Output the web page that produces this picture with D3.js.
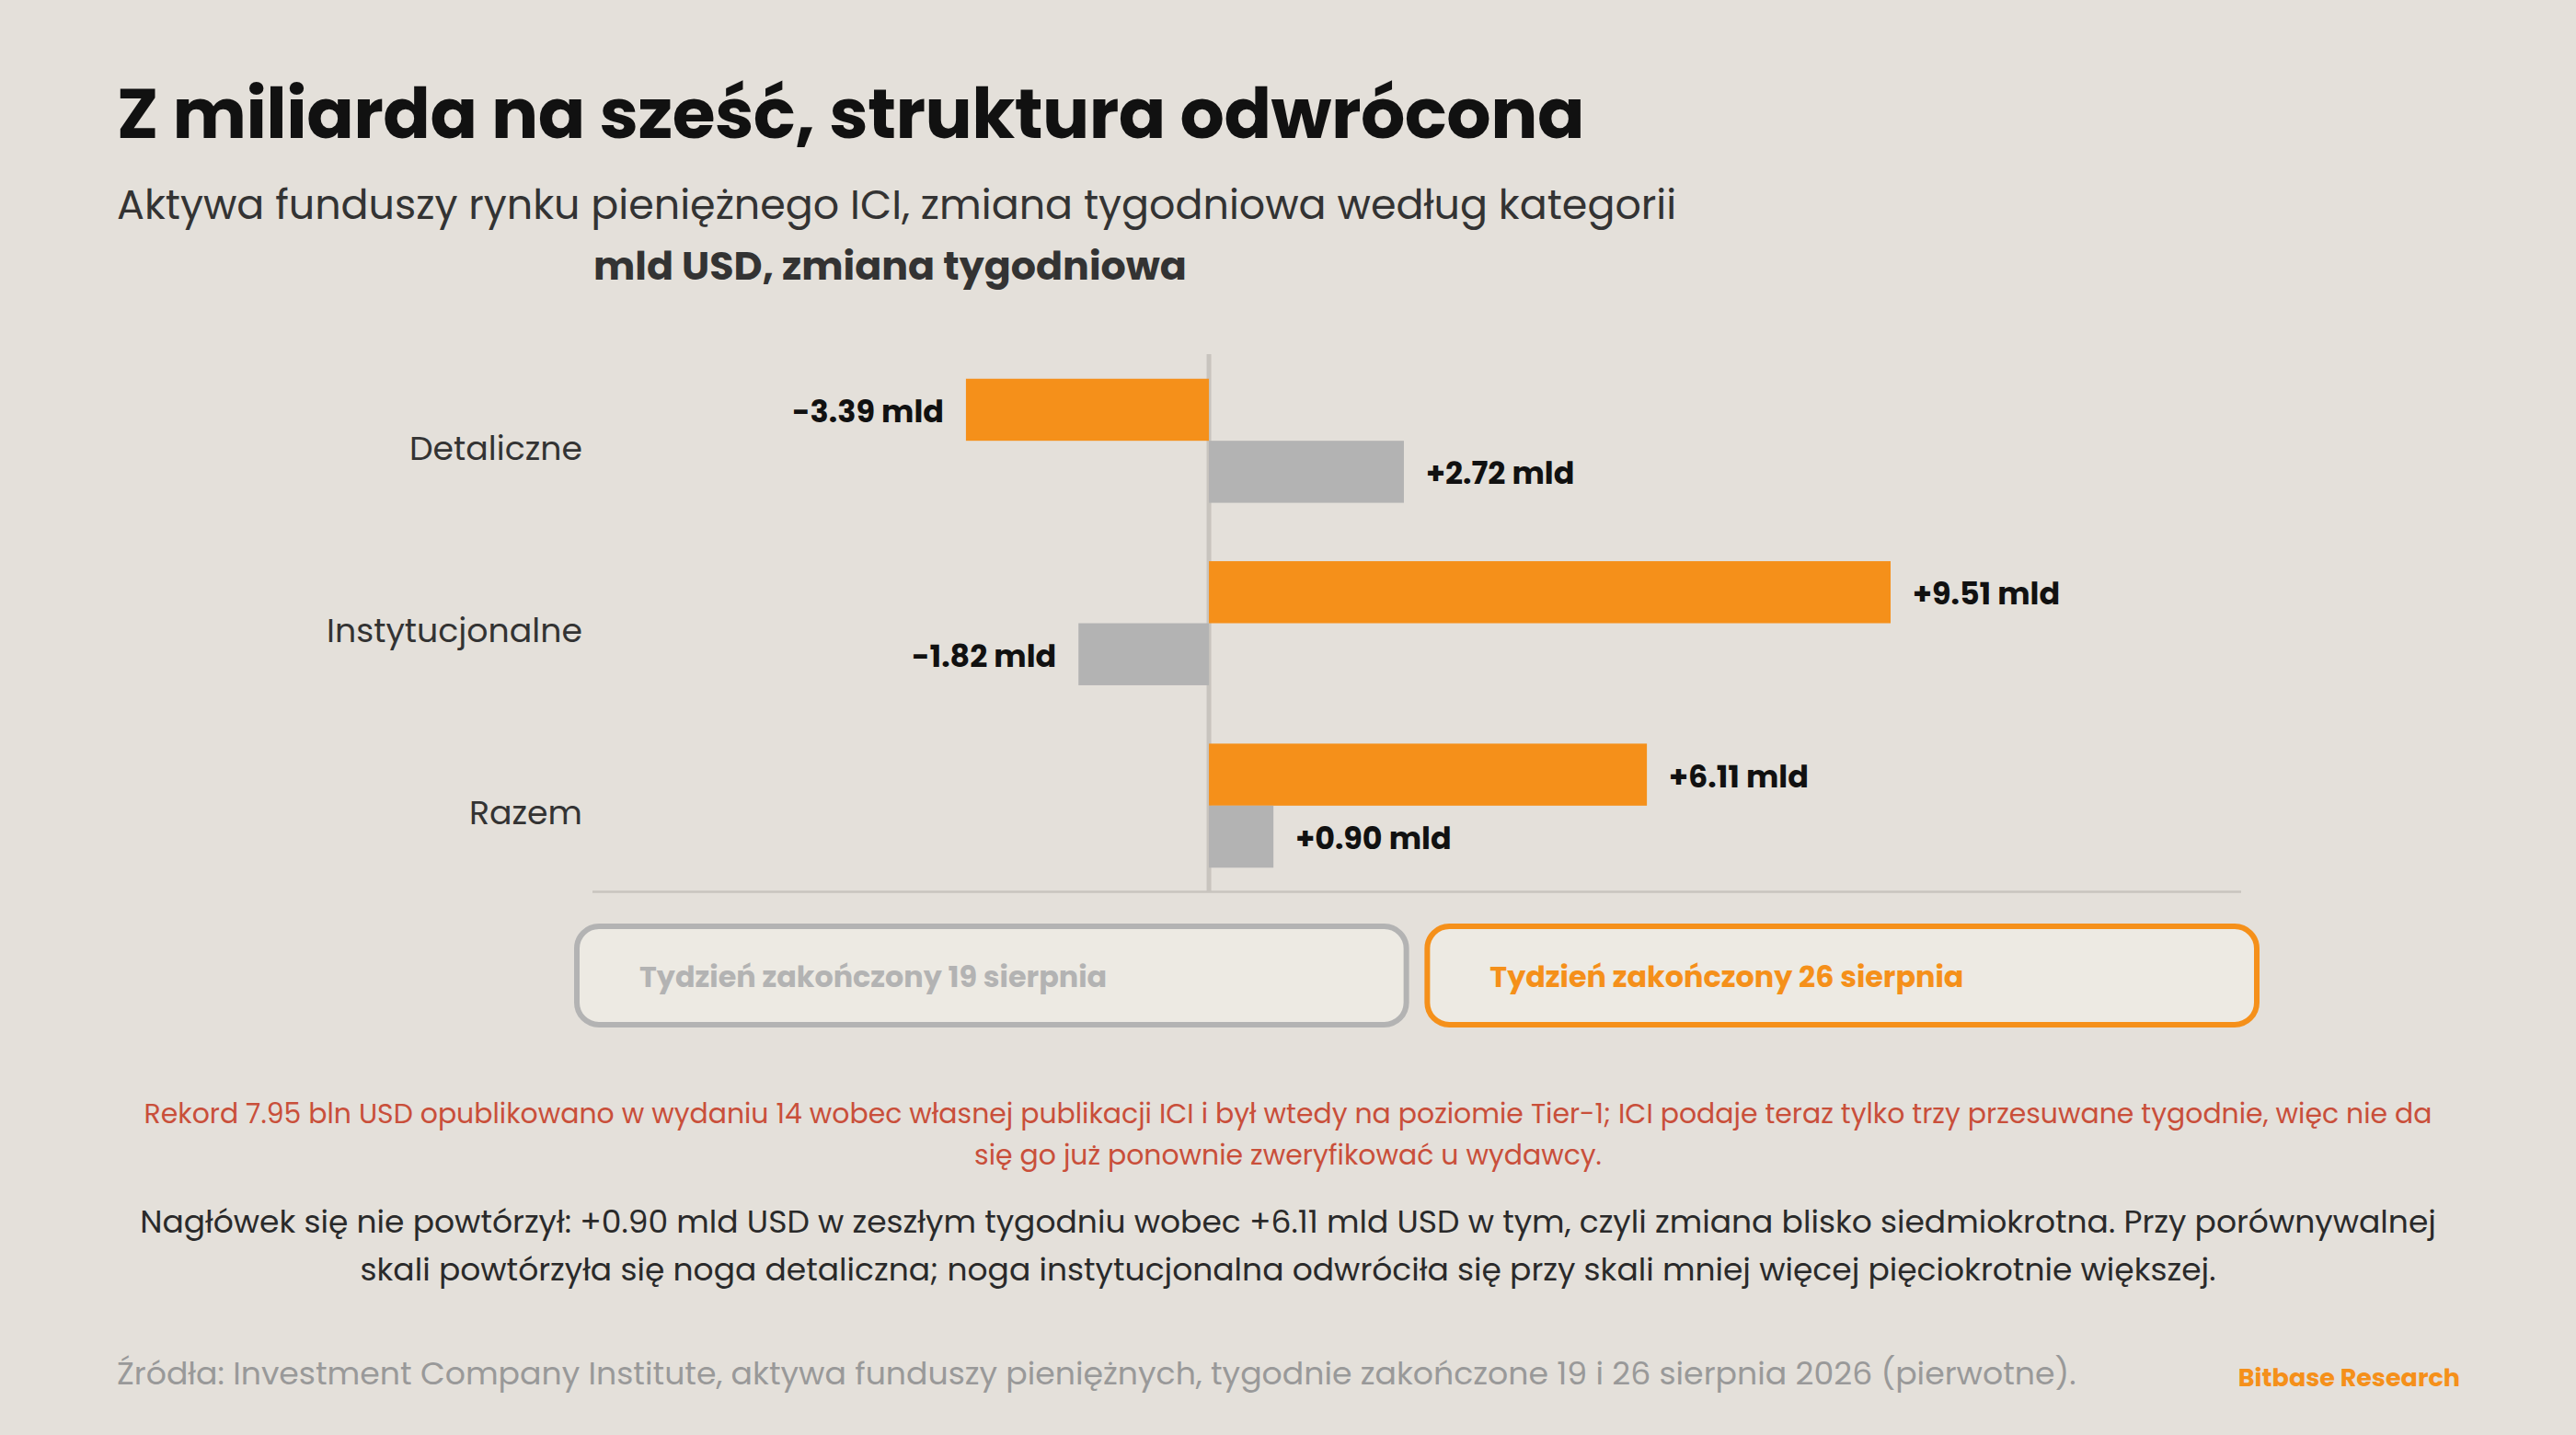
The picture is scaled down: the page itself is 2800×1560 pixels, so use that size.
<!DOCTYPE html>
<html>
<head>
<meta charset="utf-8">
<script src="https://cdn.jsdelivr.net/npm/d3@7/dist/d3.min.js"></script>
<style>
  html, body { margin: 0; padding: 0; background: #E4E0DA; }
  svg { display: block; }
  text { font-family: Poppins, "Open Sans", "Noto Sans", sans-serif; }
</style>
</head>
<body>
<svg id="chart" width="2800" height="1560"></svg>
<script>
// ---- data ----
const categories = ["Detaliczne", "Instytucjonalne", "Razem"];
const seriesNames = ["Tydzień zakończony 26 sierpnia", "Tydzień zakończony 19 sierpnia"];
const week26 = [-3.39, 9.51, 6.11];
const week19 = [2.72, -1.82, 0.90];
const legendOrder = ["Tydzień zakończony 19 sierpnia", "Tydzień zakończony 26 sierpnia"];

const titleText = "Z miliarda na sześć, struktura odwrócona";
const subtitleText = "Aktywa funduszy rynku pieniężnego ICI, zmiana tygodniowa według kategorii";
const axisTitle = "mld USD, zmiana tygodniowa";
const noteLines = [
  "Rekord 7.95 bln USD opublikowano w wydaniu 14 wobec własnej publikacji ICI i był wtedy na poziomie Tier-1; ICI podaje teraz tylko trzy przesuwane tygodnie, więc nie da",
  "się go już ponownie zweryfikować u wydawcy."
];
const bodyLines = [
  "Nagłówek się nie powtórzył: +0.90 mld USD w zeszłym tygodniu wobec +6.11 mld USD w tym, czyli zmiana blisko siedmiokrotna. Przy porównywalnej",
  "skali powtórzyła się noga detaliczna; noga instytucjonalna odwróciła się przy skali mniej więcej pięciokrotnie większej."
];
const sourceText = "Źródła: Investment Company Institute, aktywa funduszy pieniężnych, tygodnie zakończone 19 i 26 sierpnia 2026 (pierwotne).";
const brandText = "Bitbase Research";

// ---- styles ----
const ORANGE = "#F5901A";
const GRAY = "#B3B3B3";
const colorOf = {
  "Tydzień zakończony 26 sierpnia": ORANGE,
  "Tydzień zakończony 19 sierpnia": GRAY
};
const valuesOf = {
  "Tydzień zakończony 26 sierpnia": week26,
  "Tydzień zakończony 19 sierpnia": week19
};

const svg = d3.select("#chart");
svg.append("rect").attr("width", 2800).attr("height", 1560).attr("fill", "#E4E0DA");

// titles
svg.append("text").attr("x", 127).attr("y", 150)
  .attr("font-size", 76).attr("font-weight", 700).attr("fill", "#111").attr("letter-spacing", -0.5)
  .text(titleText);
svg.append("text").attr("x", 127).attr("y", 238)
  .attr("font-size", 44.4).attr("font-weight", 400).attr("fill", "#333")
  .text(subtitleText);
svg.append("text").attr("x", 645).attr("y", 304)
  .attr("font-size", 42.8).attr("font-weight", 700).attr("fill", "#333")
  .text(axisTitle);

// scales
const x = d3.scaleLinear().domain([-8.6, 14.4]).range([644, 2436]);
const y = d3.scaleBand().domain(categories).range([380, 975]).paddingInner(0.32).paddingOuter(0.16);
const ySub = d3.scaleBand().domain(seriesNames).range([0, y.bandwidth()]).padding(0);

const rows = [];
categories.forEach((c, i) => {
  seriesNames.forEach(s => rows.push({ cat: c, series: s, value: valuesOf[s][i] }));
});

// axis baseline and zero line
svg.append("line").attr("x1", 644).attr("x2", 2436).attr("y1", 969.5).attr("y2", 969.5)
  .attr("stroke", "#C8C4BE").attr("stroke-width", 2.5);
svg.append("line").attr("x1", x(0)).attr("x2", x(0)).attr("y1", 385).attr("y2", 970)
  .attr("stroke", "#C8C4BE").attr("stroke-width", 5);

// bars
svg.append("g").selectAll("rect").data(rows).join("rect")
  .attr("x", d => x(Math.min(0, d.value)))
  .attr("width", d => Math.abs(x(d.value) - x(0)))
  .attr("y", d => y(d.cat) + ySub(d.series))
  .attr("height", ySub.bandwidth())
  .attr("fill", d => colorOf[d.series]);

// value labels
const fmt = v => (v >= 0 ? "+" : "-") + Math.abs(v).toFixed(2) + " mld";
svg.append("g").selectAll("text").data(rows).join("text")
  .attr("x", d => d.value >= 0 ? x(d.value) + 24 : x(d.value) - 24)
  .attr("y", d => y(d.cat) + ySub(d.series) + ySub.bandwidth() / 2 + 13.5)
  .attr("text-anchor", d => d.value >= 0 ? "start" : "end")
  .attr("font-size", 33.4).attr("font-weight", 700).attr("fill", "#111")
  .text(d => fmt(d.value));

// category labels via axis
const yAxis = d3.axisLeft(y).tickSize(0).tickPadding(0);
const gy = svg.append("g").attr("transform", "translate(633,0)").call(yAxis);
gy.select(".domain").remove();
gy.selectAll("text")
  .attr("font-size", 36.3).attr("fill", "#333").attr("dy", null)
  .attr("y", 20.5).attr("font-family", 'Poppins, "Open Sans", "Noto Sans", sans-serif');

// legend boxes
const legX = d3.scaleBand().domain(legendOrder).range([627, 2453]).paddingInner(0.0246);
const leg = svg.append("g").selectAll("g").data(legendOrder).join("g")
  .attr("transform", d => `translate(${legX(d)},1007)`);
leg.append("rect").attr("width", legX.bandwidth()).attr("height", 107).attr("rx", 24)
  .attr("fill", "#EDEAE3").attr("stroke", d => colorOf[d]).attr("stroke-width", 6);
leg.append("text").attr("x", 68).attr("y", 66)
  .attr("font-size", 31.8).attr("font-weight", 700).attr("fill", d => colorOf[d])
  .text(d => d);

// notes
svg.append("g").selectAll("text").data(noteLines).join("text")
  .attr("x", 1400).attr("y", (d, i) => 1221 + i * 45).attr("text-anchor", "middle")
  .attr("font-size", 29.9).attr("fill", "#C94F3A").text(d => d);
svg.append("g").selectAll("text").data(bodyLines).join("text")
  .attr("x", 1400).attr("y", (d, i) => 1339.5 + i * 52).attr("text-anchor", "middle")
  .attr("font-size", 34.5).attr("fill", "#2A2A2A").text(d => d);

// footer
svg.append("text").attr("x", 127).attr("y", 1505)
  .attr("font-size", 34.7).attr("fill", "#999").text(sourceText);
svg.append("text").attr("x", 2674).attr("y", 1506.5).attr("text-anchor", "end")
  .attr("font-size", 27).attr("font-weight", 700).attr("fill", ORANGE).text(brandText);
</script>
</body>
</html>
